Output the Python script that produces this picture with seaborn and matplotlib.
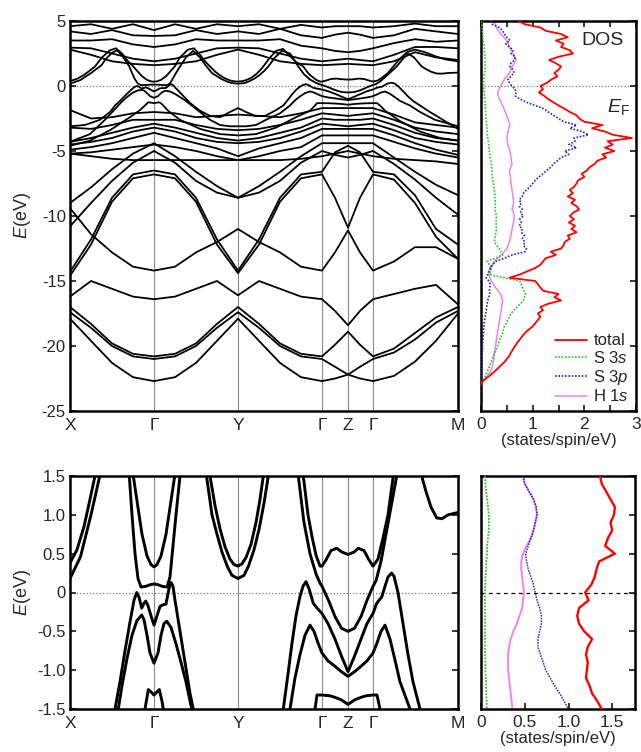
import numpy as np
import pandas as pd
import matplotlib
matplotlib.use("Agg")
import matplotlib.pyplot as plt
import seaborn as sns

# ---------------- k-path ----------------
K_SYM = [0, 84, 168, 252, 278, 303, 388]
K_LBL = ["X", "Γ", "Y", "Γ", "Z", "Γ", "M"]
K21 = [0, 21, 42, 63, 84, 105, 126, 147, 168, 189, 210, 231, 252, 265, 278, 290, 303, 324, 345, 366, 388]

# coarse bands (top panel only), energies in eV at K21
U1 = [4.6, 4.75, 4.4, 4.75, 4.3, 4.75, 4.4, 4.75, 4.6, 4.75, 4.4, 4.7, 4.5, 4.6, 4.6, 4.6, 4.5, 4.6, 4.8, 4.6, 4.6]
U2 = [4.2, 4.0, 4.3, 3.9, 3.85, 3.9, 4.3, 4.0, 4.2, 4.0, 4.4, 3.9, 3.7, 3.95, 4.1, 3.95, 3.7, 3.9, 4.4, 4.2, 4.0]
U3 = [3.5, 3.5, 3.6, 3.2, 3.0, 3.2, 3.6, 3.5, 3.5, 3.5, 3.6, 3.1, 2.9, 2.7, 2.6, 2.7, 2.9, 3.3, 3.6, 3.4, 3.5]
U4 = [2.95, 2.9, 2.5, 2.1, 1.9, 2.1, 2.5, 2.9, 2.95, 2.9, 2.5, 2.1, 1.9, 2.0, 2.1, 2.0, 1.9, 2.4, 3.0, 3.0, 2.9]
U5 = [2.8, 2.4, 1.9, 1.7, 1.6, 1.7, 1.9, 2.4, 2.8, 2.4, 1.9, 1.7, 1.6, 1.65, 1.7, 1.65, 1.6, 1.9, 2.6, 2.2, 2.0]
W1 = [-1.85, -2.5, -2.4, -2.1, -2.0, -2.1, -2.4, -2.3, -2.2, -2.3, -2.4, -2.1, -1.7, -1.7, -1.7, -1.7, -1.7, -2.2, -2.8, -3.0, -3.2]
W2 = [-3.2, -3.3, -3.0, -2.6, -2.6, -2.6, -3.0, -3.3, -3.4, -3.3, -3.0, -2.6, -2.1, -2.2, -2.3, -2.2, -2.1, -2.6, -3.2, -3.5, -3.7]
W3 = [-4.3, -4.0, -3.6, -3.2, -2.9, -3.2, -3.6, -4.0, -4.2, -4.0, -3.6, -3.2, -2.5, -2.6, -2.6, -2.6, -2.5, -3.0, -3.6, -4.0, -4.2]
W4 = [-4.5, -4.3, -4.0, -3.5, -3.2, -3.5, -4.0, -4.3, -4.4, -4.3, -4.0, -3.5, -2.9, -3.0, -3.1, -3.0, -2.9, -3.4, -4.0, -4.3, -4.5]
W5 = [-4.9, -4.7, -4.4, -4.0, -3.6, -4.0, -4.4, -4.8, -5.4, -4.8, -4.4, -4.0, -3.3, -3.3, -3.3, -3.3, -3.3, -3.8, -4.4, -4.9, -5.3]
W6 = [-5.2, -5.1, -4.9, -4.7, -4.5, -4.7, -5.0, -5.4, -5.7, -5.4, -5.0, -4.7, -3.8, -3.8, -3.8, -3.8, -3.8, -4.3, -4.8, -5.2, -5.5]
W7 = [-5.2, -5.4, -5.6, -5.7, -5.7, -5.7, -5.7, -5.7, -5.7, -5.7, -5.7, -5.6, -5.4, -5.2, -5.0, -5.2, -5.4, -5.6, -5.7, -5.8, -6.0]
S1 = [-9.0, -7.8, -6.4, -5.2, -4.4, -5.4, -6.6, -7.7, -8.6, -7.7, -6.6, -5.4, -4.4, -4.4, -4.4, -4.4, -4.4, -5.5, -6.6, -7.6, -8.4]
S2 = [-10.8, -9.0, -7.3, -5.9, -5.0, -5.9, -7.3, -8.2, -8.6, -8.2, -7.3, -5.9, -5.0, -5.3, -5.5, -5.3, -5.0, -6.0, -7.2, -8.6, -9.9]
P1 = [-14.3, -11.8, -8.6, -6.8, -6.5, -6.8, -8.6, -11.8, -14.2, -11.8, -8.6, -6.8, -6.6, -5.1, -4.6, -5.1, -6.6, -6.8, -8.4, -11.0, -12.2]
P2 = [-14.6, -12.2, -8.9, -7.1, -6.8, -7.1, -8.9, -12.2, -14.4, -12.2, -8.9, -7.1, -6.8, -8.6, -10.9, -8.6, -6.8, -7.2, -9.0, -11.6, -13.3]
L1 = [-17.9, -19.6, -21.3, -22.4, -22.7, -22.4, -21.3, -19.6, -17.9, -19.6, -21.3, -22.4, -22.7, -22.5, -22.2, -22.5, -22.7, -22.3, -21.2, -19.6, -17.5]
L2 = [-17.4, -18.6, -20.0, -20.8, -21.0, -20.8, -20.0, -18.6, -17.4, -18.6, -20.0, -20.8, -21.0, -21.6, -22.2, -21.6, -21.0, -20.5, -19.5, -18.2, -17.3]
L3 = [-17.0, -18.3, -19.8, -20.6, -20.8, -20.6, -19.8, -18.3, -17.0, -18.3, -19.8, -20.6, -20.8, -19.9, -18.9, -19.9, -20.8, -20.2, -19.0, -17.8, -17.0]
L4 = [-16.2, -15.0, -15.6, -16.2, -16.4, -16.2, -15.6, -15.0, -16.1, -15.0, -15.6, -16.2, -16.4, -17.3, -18.4, -17.3, -16.4, -16.0, -15.6, -15.3, -16.8]
L5 = [-9.4, -11.4, -12.8, -13.9, -14.2, -13.9, -12.8, -12.0, -11.0, -12.0, -12.8, -13.9, -14.2, -12.8, -11.1, -12.8, -14.2, -13.5, -12.4, -12.4, -13.3]

# near-E_F bands (both panels): (k, E) points
C1_PTS = [(0, 0.18), (10.5, 0.46), (21, 1.0), (31.5, 1.6), (36, 2.1), (42, 2.55), (47, 2.75), (52.5, 2.3), (56, 1.9),
          (59.3, 1.5), (62, 1.0), (65, 0.5), (68, 0.18), (71, 0.07), (76, 0.08), (80, 0.1), (84, 0.11), (88, 0.1),
          (92, 0.08), (97, 0.07), (100, 0.2), (103, 0.6), (106, 1.0), (110, 1.5), (116, 2.2), (123, 2.7), (130, 2.2),
          (136.5, 1.5), (142, 1.0), (147, 0.75), (152, 0.52), (157.5, 0.33), (162, 0.22), (168, 0.18), (174, 0.22),
          (178.5, 0.34), (184, 0.55), (189, 0.81), (194, 1.15), (198.3, 1.5), (205, 2.2), (212, 2.7), (220, 2.5),
          (225, 1.9), (228.3, 1.5), (234, 0.9), (240, 0.5), (246, 0.24), (250, 0.12), (252, 0.08), (258.5, -0.1),
          (265, -0.31), (271.5, -0.46), (278, -0.5), (284.5, -0.46), (291, -0.31), (297, -0.1), (303, 0.08),
          (306, 0.15), (311, 0.4), (316, 0.75), (321, 1.1), (326.7, 1.5), (333, 2.1), (338, 2.5), (344, 2.2),
          (351.7, 1.5), (356, 1.3), (361, 1.1), (366.7, 0.96), (372, 0.95), (378, 1.0), (388, 1.03)]
C2_PTS = [(0, 0.38), (7, 0.55), (14, 0.85), (20, 1.2), (25, 1.5), (32, 2.2), (40, 2.75), (46, 2.9), (52, 2.5),
          (58, 1.9), (63.3, 1.5), (67, 1.18), (72, 0.75), (77, 0.47), (81, 0.36), (84, 0.33), (87, 0.36), (91, 0.47),
          (96, 0.75), (101, 1.18), (104.7, 1.5), (110, 2.2), (118, 2.8), (124, 2.9), (130, 2.4), (135, 1.9),
          (140, 1.5), (145, 1.12), (150, 0.82), (155, 0.59), (160, 0.43), (164, 0.36), (168, 0.34), (172, 0.37),
          (176, 0.45), (181, 0.62), (186, 0.9), (190, 1.2), (193.3, 1.5), (199, 2.1), (206, 2.7), (213, 2.85),
          (220, 2.3), (226, 1.85), (233.3, 1.5), (238, 1.0), (242, 0.72), (246, 0.48), (250, 0.34), (252, 0.34),
          (256, 0.42), (261, 0.54), (266.7, 0.57), (272, 0.52), (278, 0.49), (284, 0.52), (288.3, 0.57),
          (294, 0.54), (299, 0.42), (303, 0.34), (308, 0.43), (313, 0.7), (318, 1.0), (323.3, 1.5), (330, 2.1),
          (337, 2.6), (345, 2.8), (355, 2.6), (365, 2.3), (375, 2.05), (388, 1.9)]
V1_PTS = [(0, -3.1), (15, -3.0), (30, -2.6), (40, -2.0), (45, -1.5), (50, -1.15), (55, -0.75), (60, -0.38),
          (64, -0.1), (66.7, 0.0), (69, -0.06), (71.7, -0.2), (74, -0.14), (75.7, -0.11), (78, -0.17), (81, -0.3),
          (84, -0.42), (87, -0.3), (90, -0.18), (92.7, -0.16), (96, -0.15), (99, 0.05), (101, 0.13), (103, 0.08),
          (105, -0.1), (110, -0.5), (115, -0.9), (120, -1.3), (123.3, -1.5), (130, -1.9), (140, -2.3), (150, -2.4),
          (160, -2.0), (168, -1.7), (176, -2.0), (185, -2.3), (195, -2.3), (205, -1.9), (213.3, -1.5),
          (218, -1.05), (222, -0.65), (226, -0.3), (230, -0.05), (233, 0.08), (236, 0.14), (239, 0.05),
          (243.3, -0.14), (247, -0.2), (252, -0.27), (258, -0.4), (265, -0.6), (271.5, -0.82), (278, -1.02),
          (284.5, -0.82), (291, -0.6), (297, -0.4), (303, -0.27), (306.7, -0.14), (309, -0.1), (311.7, -0.06),
          (315, 0.08), (318, 0.2), (321.7, 0.25), (324, 0.21), (328, 0.0), (333, -0.4), (338, -0.8),
          (343, -1.15), (350, -1.5), (360, -2.0), (375, -2.7), (388, -3.3)]
V2_PTS = [(0, -4.3), (20, -3.7), (35, -2.6), (48.3, -1.5), (52, -1.2), (57, -0.85), (62, -0.55), (67, -0.36),
          (71.7, -0.29), (74, -0.35), (77, -0.55), (80, -0.78), (84, -0.91), (88, -0.78), (91, -0.55), (94, -0.4),
          (96.7, -0.37), (101, -0.45), (106, -0.66), (111, -0.9), (116, -1.15), (121.7, -1.5), (130, -2.0),
          (140, -2.6), (150, -3.0), (160, -3.1), (168, -3.1), (176, -3.1), (186, -3.0), (196, -2.6), (210, -2.1),
          (220, -1.5), (225, -1.1), (230, -0.8), (235, -0.55), (240, -0.42), (244, -0.5), (248, -0.65),
          (252, -0.78), (258, -0.88), (265, -0.95), (271.5, -1.02), (278, -1.08), (284.5, -1.02), (291, -0.95),
          (297, -0.88), (303, -0.78), (307, -0.65), (311, -0.5), (315, -0.42), (320, -0.6), (325, -0.87),
          (330, -1.15), (340, -1.5), (350, -2.0), (365, -2.6), (388, -3.1)]
V3_PTS = [(0, -4.6), (20, -4.2), (40, -3.4), (60, -2.4), (70, -1.85), (75, -1.5), (78.3, -1.25), (81, -1.28),
          (84, -1.32), (87, -1.28), (89.3, -1.25), (92, -1.4), (93.3, -1.5), (98, -1.9), (110, -2.6), (130, -3.3),
          (150, -3.7), (168, -3.8), (186, -3.7), (206, -3.2), (226, -2.4), (240, -1.9), (245, -1.5), (247, -1.32),
          (252, -1.32), (260, -1.33), (265, -1.35), (271, -1.38), (278, -1.44), (285, -1.38), (291, -1.35),
          (296, -1.33), (303, -1.32), (307, -1.32), (310, -1.5), (315, -1.9), (330, -2.7), (350, -3.5),
          (370, -4.0), (388, -4.2)]

# ---------------- DOS (top panel): 0.25 eV grid for total / S 3p ----------------
E_FINE = np.linspace(5.0, -23.0, 113)
TOTAL = [0.72, 0.85, 1.15, 1.25, 1.55, 1.68, 1.45, 1.6, 1.55, 1.72, 1.78, 1.5, 1.32, 1.45, 1.55, 1.5,
         1.42, 1.48, 1.36, 1.28, 1.15, 1.2, 1.12, 1.22, 1.3, 1.4, 1.5, 1.62, 1.72, 1.85, 1.9, 2.0,
         2.35, 2.15, 2.4, 2.55, 2.92, 2.45, 2.55, 2.4, 2.58, 2.35, 2.42, 2.25, 2.2, 2.1, 2.05, 1.95,
         2.0, 1.88, 1.85, 1.8, 1.72, 1.78, 1.68, 1.82, 1.75, 1.85, 1.9, 1.78, 1.72, 1.8, 1.7, 1.82,
         1.75, 1.85, 1.68, 1.72, 1.62, 1.6, 1.55, 1.35, 1.45, 1.25, 1.2, 1.15, 1.05, 0.9, 0.75, 0.55,
         1.05, 1.1, 1.15, 1.2, 1.5, 1.42, 1.55, 1.3, 1.15, 1.2, 1.1, 1.15, 1.1, 1.05, 1.0, 0.92,
         0.85, 0.8, 0.75, 0.7, 0.66, 0.62, 0.58, 0.55, 0.5, 0.45, 0.38, 0.32, 0.25, 0.18, 0.1, 0.02, 0.0]
S3P = [0.18, 0.22, 0.35, 0.42, 0.45, 0.5, 0.56, 0.48, 0.55, 0.62, 0.58, 0.66, 0.65, 0.58, 0.56, 0.62,
       0.64, 0.58, 0.52, 0.55, 0.6, 0.66, 0.68, 0.66, 0.75, 0.88, 1.05, 1.22, 1.3, 1.4, 1.5, 1.6,
       1.85, 1.72, 1.95, 2.08, 1.8, 1.82, 1.7, 1.85, 1.62, 1.7, 1.55, 1.48, 1.4, 1.35, 1.27, 1.2,
       1.12, 1.05, 1.0, 0.95, 0.88, 0.82, 0.8, 0.74, 0.78, 0.74, 0.8, 0.76, 0.82, 0.75, 0.78, 0.74,
       0.8, 0.78, 0.84, 0.8, 0.85, 0.82, 0.88, 0.85, 0.6, 0.45, 0.28, 0.22, 0.18, 0.15, 0.13, 0.1,
       0.15, 0.18, 0.17, 0.16, 0.17, 0.15, 0.13, 0.12, 0.11, 0.1, 0.09, 0.08, 0.07, 0.06, 0.06, 0.05,
       0.05, 0.04, 0.04, 0.03, 0.03, 0.03, 0.02, 0.02, 0.02, 0.02, 0.01, 0.01, 0.01, 0.01, 0.0, 0.0, 0.0]
# 0.5 eV grid for S 3s / H 1s
E_COARSE = np.linspace(5.0, -23.0, 57)
S3S = [0.01, 0.02, 0.03, 0.04, 0.06, 0.07, 0.08, 0.08, 0.07, 0.05, 0.05, 0.06, 0.07, 0.08, 0.09, 0.1,
       0.11, 0.12, 0.13, 0.15, 0.16, 0.18, 0.2, 0.21, 0.22, 0.24, 0.26, 0.27, 0.28, 0.27, 0.3, 0.29,
       0.3, 0.28, 0.26, 0.35, 0.42, 0.12, 0.2, 0.16, 0.75, 0.8, 0.86, 0.82, 0.7, 0.58, 0.52, 0.45,
       0.42, 0.36, 0.32, 0.27, 0.22, 0.17, 0.12, 0.06, 0.0]
H1S = [0.25, 0.3, 0.38, 0.5, 0.55, 0.62, 0.68, 0.6, 0.55, 0.45, 0.38, 0.32, 0.35, 0.42, 0.47, 0.52,
       0.56, 0.52, 0.5, 0.52, 0.56, 0.58, 0.6, 0.55, 0.57, 0.58, 0.6, 0.62, 0.63, 0.6, 0.65, 0.63,
       0.6, 0.58, 0.55, 0.5, 0.4, 0.25, 0.2, 0.15, 0.2, 0.28, 0.38, 0.42, 0.4, 0.38, 0.36, 0.34,
       0.32, 0.3, 0.28, 0.26, 0.25, 0.22, 0.18, 0.08, 0.0]

# ---------------- DOS (bottom panel), 0.1 eV grid ----------------
E_B = np.linspace(1.5, -1.5, 31)
TOT_B = [1.36, 1.38, 1.43, 1.48, 1.53, 1.52, 1.48, 1.5, 1.45, 1.42, 1.53, 1.35, 1.32, 1.3, 1.26, 1.19,
         1.23, 1.12, 1.1, 1.12, 1.18, 1.27, 1.22, 1.2, 1.22, 1.21, 1.2, 1.24, 1.27, 1.33, 1.38]
S3P_B = [0.48, 0.5, 0.55, 0.6, 0.63, 0.64, 0.62, 0.6, 0.57, 0.54, 0.51, 0.52, 0.54, 0.57, 0.6, 0.62,
         0.64, 0.67, 0.69, 0.69, 0.67, 0.65, 0.65, 0.68, 0.71, 0.74, 0.79, 0.84, 0.9, 0.95, 1.0]
H1S_B = [0.48, 0.5, 0.55, 0.6, 0.63, 0.64, 0.62, 0.6, 0.57, 0.52, 0.48, 0.46, 0.46, 0.47, 0.48, 0.49,
         0.48, 0.47, 0.44, 0.41, 0.37, 0.34, 0.32, 0.31, 0.31, 0.31, 0.32, 0.33, 0.34, 0.35, 0.36]
S3S_B = [0.045, 0.05, 0.06, 0.07, 0.08, 0.09, 0.09, 0.09, 0.08, 0.07, 0.07, 0.06, 0.06, 0.05, 0.05, 0.045,
         0.045, 0.045, 0.045, 0.045, 0.045, 0.045, 0.045, 0.045, 0.05, 0.05, 0.055, 0.06, 0.06, 0.065, 0.065]

# ---------------- style ----------------
sns.set_theme(style="white")
plt.rcParams["font.family"] = ["Liberation Sans", "DejaVu Sans"]
plt.rcParams["axes.unicode_minus"] = False
plt.rcParams["mathtext.fontset"] = "custom"
plt.rcParams["mathtext.rm"] = "Liberation Sans"
plt.rcParams["mathtext.it"] = "Liberation Sans:italic"

COARSE = {"U1": U1, "U2": U2, "U3": U3, "U4": U4, "U5": U5, "W1": W1, "W2": W2, "W3": W3, "W4": W4,
          "W5": W5, "W6": W6, "W7": W7, "S1": S1, "S2": S2, "P1": P1, "P2": P2, "L1": L1, "L2": L2,
          "L3": L3, "L4": L4, "L5": L5}
FINE = {"C1": C1_PTS, "C2": C2_PTS, "V1": V1_PTS, "V2": V2_PTS, "V3": V3_PTS}

rows = []
for name, vals in COARSE.items():
    for k, e in zip(K21, vals):
        rows.append((name, k, e))
fine_rows = []
for name, pts in FINE.items():
    for k, e in pts:
        fine_rows.append((name, k, e))
df_fine = pd.DataFrame(fine_rows, columns=["band", "k", "E"])
df_top = pd.concat([pd.DataFrame(rows, columns=["band", "k", "E"]), df_fine], ignore_index=True)

fig = plt.figure(figsize=(6.41, 7.52), dpi=100)
W, H = 641.0, 752.0
ax1 = fig.add_axes([70 / W, 1 - 411 / H, 388 / W, 390 / H])
ax2 = fig.add_axes([481 / W, 1 - 411 / H, 155 / W, 390 / H])
ax3 = fig.add_axes([70 / W, 1 - 709 / H, 388 / W, 233 / H])
ax4 = fig.add_axes([481 / W, 1 - 709 / H, 154 / W, 233 / H])

FS = 12
GRAY = "#8a8a8a"

def band_axes(ax, df, lw, ylim, yticks, ylabels):
    for k in K_SYM[1:-1]:
        ax.axvline(k, color=GRAY, lw=0.8, zorder=0)
    ax.axhline(0, color="#777777", lw=0.9, ls=(0, (1, 1.6)), zorder=0)
    sns.lineplot(data=df, x="k", y="E", units="band", estimator=None, sort=False,
                 color="black", lw=lw, ax=ax, legend=False)
    ax.set_xlim(0, 388)
    ax.set_ylim(*ylim)
    ax.set_xticks(K_SYM)
    ax.set_xticklabels(K_LBL, fontsize=FS + 0.5)
    ax.tick_params(axis="x", length=0, pad=5)
    ax.set_yticks(yticks)
    ax.set_yticklabels(ylabels, fontsize=FS)
    ax.tick_params(axis="y", direction="in", length=4, width=1.3, left=True, right=True, pad=3)
    ax.set_xlabel("")
    ax.set_ylabel("$E$(eV)", fontsize=FS + 1)
    ax.yaxis.set_label_coords(-0.095, 0.5)
    for s in ax.spines.values():
        s.set_linewidth(1.8)
        s.set_color("black")

band_axes(ax1, df_top, 1.3, (-25, 5), [5, 0, -5, -10, -15, -20, -25],
          ["5", "0", "-5", "-10", "-15", "-20", "-25"])
band_axes(ax3, df_fine, 2.1, (-1.5, 1.5), [1.5, 1.0, 0.5, 0, -0.5, -1.0, -1.5],
          ["1.5", "1.0", "0.5", "0", "-0.5", "-1.0", "-1.5"])

def dos_axes(ax, ef_style):
    ax.axhline(0, **ef_style)
    for s in ax.spines.values():
        s.set_linewidth(1.8)
        s.set_color("black")
    ax.set_ylabel("")
    ax.set_xlabel("(states/spin/eV)", fontsize=FS, labelpad=1)
    ax.tick_params(axis="y", which="both", direction="in", left=False, right=True, labelleft=False,
                   length=4, width=1.3)
    ax.tick_params(axis="x", which="both", direction="in", top=True, bottom=True, length=4, width=1.3,
                   labelsize=FS + 0.5, pad=4)

# top DOS
sns.lineplot(x=H1S, y=E_COARSE, sort=False, estimator=None, orient="y", color="violet", lw=1.1, ax=ax2,
             label="H 1$s$", zorder=2)
sns.lineplot(x=S3S, y=E_COARSE, sort=False, estimator=None, orient="y", color="#22c422", lw=1.2,
             ls=(0, (1, 1)), ax=ax2, label="S 3$s$", zorder=3)
sns.lineplot(x=S3P, y=E_FINE, sort=False, estimator=None, orient="y", color="#2323c8", lw=1.2,
             ls=(0, (1, 1)), ax=ax2, label="S 3$p$", zorder=3)
sns.lineplot(x=TOTAL, y=E_FINE, sort=False, estimator=None, orient="y", color="red", lw=1.3, ax=ax2,
             label="total", zorder=4)
ax2.set_xlim(0, 3)
ax2.set_ylim(-25, 5)
ax2.set_xticks([0, 1, 2, 3])
ax2.set_xticklabels(["0", "1", "2", "3"])
ax2.set_xticks([0.5, 1.5, 2.5], minor=True)
ax2.set_yticks([5, 0, -5, -10, -15, -20, -25])
dos_axes(ax2, dict(color="#777777", lw=0.9, ls=(0, (1, 1.6)), zorder=0))
h, l = ax2.get_legend_handles_labels()
order = [l.index("total"), l.index("S 3$s$"), l.index("S 3$p$"), l.index("H 1$s$")]
ax2.legend([h[i] for i in order], [l[i] for i in order], loc="lower right", frameon=False,
           fontsize=FS, handlelength=1.9, handletextpad=0.4, labelspacing=0.1,
           borderaxespad=0.2, borderpad=0.2)
ax2.text(2.35, 3.5, "DOS", fontsize=14, ha="center", va="center")
ax2.text(2.65, -1.65, "$E_\\mathrm{F}$", fontsize=14, ha="center", va="center")

# bottom DOS
sns.lineplot(x=H1S_B, y=E_B, sort=False, estimator=None, orient="y", color="violet", lw=1.4, ax=ax4, zorder=2)
sns.lineplot(x=S3S_B, y=E_B, sort=False, estimator=None, orient="y", color="#22c422", lw=1.3,
             ls=(0, (1, 0.8)), ax=ax4, zorder=3)
sns.lineplot(x=S3P_B, y=E_B, sort=False, estimator=None, orient="y", color="#2323c8", lw=1.1,
             ls=(0, (1, 0.8)), ax=ax4, zorder=3)
sns.lineplot(x=TOT_B, y=E_B, sort=False, estimator=None, orient="y", color="red", lw=1.7, ax=ax4, zorder=4)
ax4.set_xlim(0, 1.76)
ax4.set_ylim(-1.5, 1.5)
ax4.set_xticks([0, 0.5, 1.0, 1.5])
ax4.set_xticklabels(["0", "0.5", "1.0", "1.5"])
ax4.set_yticks([1.5, 1.0, 0.5, 0, -0.5, -1.0, -1.5])
dos_axes(ax4, dict(color="black", lw=0.9, ls=(0, (3, 3)), zorder=0))
ax4.tick_params(axis="x", top=False)

fig.savefig("out.png", dpi=100)
